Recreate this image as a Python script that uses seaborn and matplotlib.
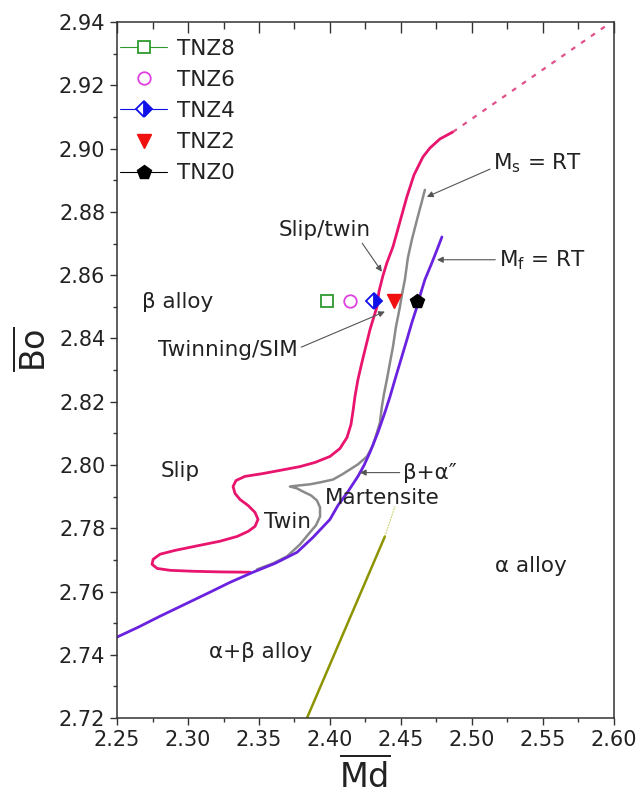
import numpy as np
import pandas as pd
import matplotlib
matplotlib.use("Agg")
import matplotlib.pyplot as plt
from matplotlib.ticker import MultipleLocator, FormatStrFormatter
from matplotlib.lines import Line2D
import seaborn as sns

# ---------------- data ----------------
slip_twin_x = [2.4866, 2.4775, 2.4704, 2.4655, 2.4592, 2.4542, 2.4493, 2.4444, 2.4401, 2.4373,
               2.4345, 2.4331, 2.4303, 2.4282, 2.4254, 2.4225, 2.4197, 2.4176, 2.4162, 2.4148,
               2.4120, 2.4070, 2.4000, 2.3894, 2.3789, 2.3648, 2.3528, 2.3401, 2.3338, 2.3317,
               2.3331, 2.3366, 2.3423, 2.3472, 2.3493, 2.3472, 2.3423, 2.3345, 2.3225, 2.3049,
               2.2908, 2.2803, 2.2754, 2.2746, 2.2782, 2.2873, 2.3035, 2.3225, 2.3437]
slip_twin_y = [2.9053, 2.9031, 2.9002, 2.8974, 2.8917, 2.8848, 2.8769, 2.8690, 2.8639, 2.8598,
               2.8548, 2.8500, 2.8459, 2.8428, 2.8377, 2.8324, 2.8270, 2.8216, 2.8169, 2.8128,
               2.8087, 2.8052, 2.8027, 2.8008, 2.7995, 2.7983, 2.7973, 2.7964, 2.7951, 2.7932,
               2.7910, 2.7891, 2.7872, 2.7850, 2.7828, 2.7806, 2.7790, 2.7774, 2.7759, 2.7743,
               2.7730, 2.7718, 2.7702, 2.7686, 2.7673, 2.7667, 2.7664, 2.7662, 2.7661]

slip_twin_ext_x = [2.4866, 2.595]
slip_twin_ext_y = [2.9053, 2.939]

mf_x = [2.4789, 2.4754, 2.4718, 2.4669, 2.4641, 2.4613, 2.4577, 2.4542, 2.4500, 2.4458,
        2.4423, 2.4387, 2.4338, 2.4282, 2.4239, 2.4197, 2.4127, 2.4056, 2.4000, 2.3880,
        2.3768, 2.3613, 2.3458, 2.3296, 2.3155, 2.2979, 2.2803, 2.2648, 2.2500]
mf_y = [2.8721, 2.8680, 2.8639, 2.8586, 2.8545, 2.8500, 2.8450, 2.8396, 2.8333, 2.8270,
        2.8216, 2.8166, 2.8103, 2.8040, 2.7998, 2.7964, 2.7916, 2.7872, 2.7828, 2.7771,
        2.7724, 2.7689, 2.7661, 2.7629, 2.7598, 2.7560, 2.7522, 2.7487, 2.7456]

ms_x = [2.4669, 2.4641, 2.4613, 2.4577, 2.4549, 2.4528, 2.4507, 2.4493, 2.4465, 2.4444,
        2.4423, 2.4401, 2.4380, 2.4366, 2.4352, 2.4331, 2.4303, 2.4261, 2.4197, 2.4141,
        2.4085, 2.4021, 2.3930, 2.3859, 2.3775, 2.3718, 2.3768, 2.3810, 2.3866, 2.3908,
        2.3930, 2.3930, 2.3901, 2.3859, 2.3789, 2.3697, 2.3599, 2.3486]
ms_y = [2.8870, 2.8822, 2.8775, 2.8712, 2.8655, 2.8586, 2.8538, 2.8500, 2.8437, 2.8374,
        2.8324, 2.8270, 2.8223, 2.8185, 2.8134, 2.8103, 2.8062, 2.8027, 2.8002, 2.7986,
        2.7970, 2.7954, 2.7945, 2.7939, 2.7935, 2.7932, 2.7926, 2.7916, 2.7904, 2.7888,
        2.7866, 2.7837, 2.7809, 2.7787, 2.7749, 2.7711, 2.7689, 2.7670]

ab_x = [2.3838, 2.4387]
ab_y = [2.7200, 2.7774]
ab_ext_x = [2.4387, 2.4458]
ab_ext_y = [2.7774, 2.7869]

alloys = ["TNZ8", "TNZ6", "TNZ4", "TNZ2", "TNZ0"]
alloy_md = [2.398, 2.414, 2.431, 2.445, 2.4615]
alloy_bo = [2.852, 2.852, 2.852, 2.852, 2.852]

xticks = [2.25, 2.30, 2.35, 2.40, 2.45, 2.50, 2.55, 2.60]
yticks = [2.72, 2.74, 2.76, 2.78, 2.80, 2.82, 2.84, 2.86, 2.88, 2.90, 2.92, 2.94]

# ---------------- styling ----------------
sns.set_style("white")
plt.rcParams['font.family'] = ['DejaVu Sans']
plt.rcParams['mathtext.fontset'] = 'dejavusans'

fig, ax = plt.subplots(figsize=(6.4, 7.94), dpi=100)
fig.subplots_adjust(left=0.183, right=0.959, bottom=0.0957, top=0.972)

MAG = "#E8146E"
PUR = "#6A22E0"
GRY = "#8A8A8A"
OLV = "#8E9400"
smooth = dict(solid_joinstyle="round", solid_capstyle="round")

sns.lineplot(x=slip_twin_x, y=slip_twin_y, sort=False, estimator=None, color=MAG, lw=2.0, ax=ax, **smooth)
sns.lineplot(x=slip_twin_ext_x, y=slip_twin_ext_y, sort=False, estimator=None, color="#E0508A",
             lw=1.6, ax=ax, linestyle=(0, (2.2, 3.2)))
sns.lineplot(x=ms_x, y=ms_y, sort=False, estimator=None, color=GRY, lw=1.8, ax=ax, **smooth)
sns.lineplot(x=mf_x, y=mf_y, sort=False, estimator=None, color=PUR, lw=2.0, ax=ax, **smooth)
sns.lineplot(x=ab_x, y=ab_y, sort=False, estimator=None, color=OLV, lw=1.8, ax=ax)
sns.lineplot(x=ab_ext_x, y=ab_ext_y, sort=False, estimator=None, color="#C8CC60",
             lw=0.8, ax=ax, linestyle=(0, (1.5, 1.0)))

styles = {
    "TNZ8": dict(marker="s", mfc="white", mec="#2E9A2E", mew=1.3, ms=8, color="#2E9A2E", fillstyle="full"),
    "TNZ6": dict(marker="o", mfc="white", mec="#E040E0", mew=1.3, ms=9, color="#E040E0", fillstyle="full"),
    "TNZ4": dict(marker="D", mfc="#1010E8", mec="#1010E8", mfcalt="white", mew=1.3, ms=8.5,
                 color="#1010E8", fillstyle="right"),
    "TNZ2": dict(marker="v", mfc="#F01010", mec="#F01010", mew=1.0, ms=10, color="#F01010", fillstyle="full"),
    "TNZ0": dict(marker="p", mfc="black", mec="black", mew=1.0, ms=10.5, color="black", fillstyle="full"),
}
for name, xm, ym in zip(alloys, alloy_md, alloy_bo):
    st = styles[name]
    ax.plot([xm], [ym], linestyle="none", zorder=5, **st)

# legend
handles = []
for name in alloys:
    st = dict(styles[name])
    ls = "-" if name in ("TNZ8", "TNZ4", "TNZ0") else "none"
    h = Line2D([0], [0], linestyle=ls, lw=0.8, **st)
    handles.append(h)
leg = ax.legend(handles, alloys, loc="upper left", bbox_to_anchor=(-0.02, 0.995), frameon=False,
                fontsize=15.5, handlelength=2.2, handletextpad=0.45, labelspacing=0.52,
                borderaxespad=0.2)
for t in leg.get_texts():
    t.set_color("#222222")

# ---------------- text ----------------
tc = "#222222"
fs = 15.5
ax.text(2.2923, 2.8516, "β alloy", fontsize=fs, color=tc, ha="center", va="center")
ax.text(2.2944, 2.7980, "Slip", fontsize=fs, color=tc, ha="center", va="center")
ax.text(2.3704, 2.7819, "Twin", fontsize=fs, color=tc, ha="center", va="center")
ax.text(2.4366, 2.7897, "Martensite", fontsize=fs, color=tc, ha="center", va="center")
ax.text(2.5415, 2.7680, "α alloy", fontsize=fs, color=tc, ha="center", va="center")
ax.text(2.3514, 2.7408, "α+β alloy", fontsize=fs, color=tc, ha="center", va="center")

arr = dict(arrowstyle="-|>", color="#555555", lw=0.8, mutation_scale=9, shrinkA=0, shrinkB=0)
ax.annotate("Slip/twin", xy=(2.4366, 2.8611), xytext=(2.3965, 2.8743), fontsize=fs, color=tc,
            ha="center", va="center", arrowprops=dict(arr, relpos=(0.88, 0.0)))
ax.annotate("M$_{\\mathrm{s}}$ = RT", xy=(2.4683, 2.8848), xytext=(2.5465, 2.8955), fontsize=fs,
            color=tc, ha="center", va="center", arrowprops=dict(arr, relpos=(0.0, 0.3)))
ax.annotate("M$_{\\mathrm{f}}$ = RT", xy=(2.4754, 2.8649), xytext=(2.5493, 2.8649), fontsize=fs,
            color=tc, ha="center", va="center", arrowprops=dict(arr, relpos=(0.0, 0.5)))
ax.annotate("Twinning/SIM", xy=(2.4387, 2.8485), xytext=(2.3282, 2.8365), fontsize=fs,
            color=tc, ha="center", va="center", arrowprops=dict(arr, relpos=(1.0, 0.55)))
ax.annotate("β+α\u2033", xy=(2.4211, 2.7976), xytext=(2.4704, 2.7976), fontsize=fs,
            color=tc, ha="center", va="center", arrowprops=dict(arr, relpos=(0.0, 0.5)))

# ---------------- axes ----------------
ax.set_xlim(2.25, 2.60)
ax.set_ylim(2.72, 2.94)
ax.set_xticks(xticks)
ax.set_yticks(yticks)
ax.xaxis.set_minor_locator(MultipleLocator(0.025))
ax.yaxis.set_minor_locator(MultipleLocator(0.01))
ax.xaxis.set_major_formatter(FormatStrFormatter("%.2f"))
ax.yaxis.set_major_formatter(FormatStrFormatter("%.2f"))
ax.tick_params(axis="both", which="major", direction="out", length=5, width=1.0,
               labelsize=15, colors="#333333", labelcolor="#222222")
ax.tick_params(axis="both", which="minor", direction="out", length=3, width=1.0, colors="#333333")
ax.tick_params(axis="x", which="both", bottom=True, top=False)
ax.tick_params(axis="y", which="both", left=True, right=False)

sec = ax.secondary_xaxis("top")
sec.set_xticks(xticks)
sec.xaxis.set_minor_locator(MultipleLocator(0.025))
sec.tick_params(axis="x", which="major", direction="in", length=8, width=1.0, labeltop=False,
                colors="#333333")
sec.tick_params(axis="x", which="minor", direction="in", length=5, width=1.0, colors="#333333")
sec.spines["top"].set_visible(False)

for s in ax.spines.values():
    s.set_color("#333333")
    s.set_linewidth(1.1)
    s.set_visible(True)

ax.set_xlabel(r"$\overline{\mathrm{Md}}$", fontsize=24, color="#222222")
ax.set_ylabel(r"$\overline{\mathrm{Bo}}$", fontsize=24, color="#222222")
ax.xaxis.set_label_coords(0.5, -0.055)
ax.yaxis.set_label_coords(-0.13, 0.53)

fig.savefig("out.png", dpi=100)
